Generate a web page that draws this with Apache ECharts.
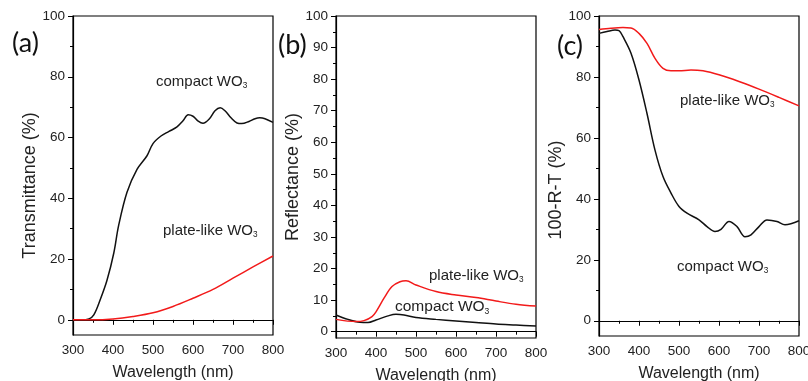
<!DOCTYPE html>
<html>
<head>
<meta charset="utf-8">
<script src="https://cdn.jsdelivr.net/npm/echarts@6/dist/echarts.min.js"></script>
<style>
  html, body { margin: 0; padding: 0; background: #fff; }
  #chart { width: 808px; height: 381px; }
</style>
</head>
<body>
<div id="chart"></div>
<script>
// (a) transmittance
let aCompactWl = [300, 320, 340, 352, 368, 385, 402, 414, 435, 460, 485, 500, 520, 540, 560, 575, 588, 600, 612, 625, 640, 655, 668, 680, 695, 710, 722, 740, 755, 767, 780, 800]
let aCompactT = [0, 0, 0.3, 1.6, 6.6, 13, 22, 31, 42, 49.5, 54, 58, 60.5, 62, 63.5, 65.5, 67.5, 67, 65.5, 64.7, 66, 68.8, 69.8, 68.8, 66.5, 64.8, 64.6, 65.3, 66.2, 66.5, 66.2, 65]
let aPlateWl = [300, 350, 400, 450, 500, 550, 600, 650, 700, 750, 800]
let aPlateT = [0, 0, 0.3, 1.1, 2.3, 4.4, 7.1, 10, 13.7, 17.4, 21]

// (b) reflectance
let bPlateWl = [300, 350, 370, 390, 400, 420, 440, 460, 475, 500, 550, 600, 650, 700, 750, 800]
let bPlateR = [3.9, 3.2, 3.5, 4.8, 6.3, 10.6, 14.3, 15.8, 16.1, 14.8, 12.7, 11.6, 10.8, 9.7, 8.7, 8.1]
let bCompactWl = [300, 330, 360, 380, 400, 430, 450, 470, 500, 550, 600, 650, 700, 750, 800]
let bCompactR = [5.3, 3.9, 3.0, 2.9, 3.7, 5.0, 5.5, 5.3, 4.5, 3.9, 3.4, 2.9, 2.4, 2.1, 1.8]

// (c) 100-R-T
let cPlateWl = [300, 330, 360, 380, 400, 420, 440, 460, 480, 500, 530, 560, 600, 650, 700, 750, 800]
let cPlateA = [95.6, 96.0, 96.2, 96.1, 94.3, 91, 86.1, 82.8, 82, 82, 82.3, 82, 80.7, 78.5, 76, 73.3, 70.5]
let cCompactWl = [300, 320, 340, 350, 360, 380, 400, 420, 440, 460, 480, 500, 520, 550, 570, 590, 605, 625, 645, 665, 680, 700, 720, 745, 765, 800]
let cCompactA = [94.3, 94.9, 95.4, 95.2, 93.2, 87.8, 79, 68, 56, 47.3, 41.9, 37.5, 35.3, 33.1, 30.9, 29.3, 30, 32.6, 30.9, 27.6, 28.2, 30.9, 33.1, 32.6, 31.5, 32.8]

let yTicksAC = [0, 20, 40, 60, 80, 100]
let yMinorAC = [10, 30, 50, 70, 90]
let yTicksB = [0, 10, 20, 30, 40, 50, 60, 70, 80, 90, 100]
let yMinorB = [5, 15, 25, 35, 45, 55, 65, 75, 85, 95]

let panelNames = ['Transmittance (%)', 'Reflectance (%)', '100-R-T (%)']
let panelLetters = ['(a)', '(b)', '(c)']

const RED = '#f21a1a'
const BLACK = '#111'
const TXT = '#222'

let zip = (xs, ys) => xs.map((x, i) => [x, ys[i]])

let grids = [
  { left: 73, top: 16, width: 200, height: 319 },
  { left: 336, top: 16, width: 200, height: 322 },
  { left: 599, top: 16, width: 200, height: 320 }
]
let yMins = [-5, -2, -5]
let namePads = [[0, 20, 0, 0], [0, 0, 0, 0], [0, 28, 0, 0]]

let xAxes = grids.map((g, i) => ({
  gridIndex: i,
  type: 'value',
  min: 300,
  max: 800,
  interval: 100,
  name: 'Wavelength (nm)',
  nameLocation: 'middle',
  nameGap: 30,
  nameTextStyle: { fontSize: 16, color: TXT, fontFamily: 'Liberation Sans' },
  axisLine: { lineStyle: { color: '#000', width: 1.2 } },
  axisTick: { length: 5, lineStyle: { color: '#000' } },
  minorTick: { show: true, splitNumber: 2, length: 3, lineStyle: { color: '#000' } },
  axisLabel: { fontSize: 13.5, color: TXT, margin: 8, fontFamily: 'Liberation Sans' },
  splitLine: { show: false }
}))

let yAxes = []
grids.forEach((g, i) => {
  let major = i === 1 ? yTicksB : yTicksAC
  let minor = i === 1 ? yMinorB : yMinorAC
  yAxes.push({
    gridIndex: i,
    type: 'value',
    position: 'left',
    min: yMins[i],
    max: 100,
    name: panelNames[i],
    nameLocation: 'middle',
    nameGap: i === 0 ? 31 : 34,
    nameTextStyle: { fontSize: 18, color: TXT, fontFamily: 'Liberation Sans', padding: namePads[i] },
    axisLine: { onZero: false, lineStyle: { color: '#000', width: 1.2 } },
    axisTick: { length: 5, customValues: major, lineStyle: { color: '#000' } },
    axisLabel: { fontSize: 13.5, color: TXT, margin: 8, customValues: major, fontFamily: 'Liberation Sans' },
    splitLine: { show: false }
  })
  // minor ticks on an overlaid axis
  yAxes.push({
    gridIndex: i,
    type: 'value',
    position: 'left',
    offset: 0,
    min: yMins[i],
    max: 100,
    axisLine: { show: false, onZero: false },
    axisTick: { length: 3, customValues: minor, lineStyle: { color: '#000' } },
    axisLabel: { show: false },
    splitLine: { show: false }
  })
})

let line = (name, gi, data, color) => ({
  name: name,
  type: 'line',
  xAxisIndex: gi,
  yAxisIndex: gi * 2,
  data: data,
  smooth: 0.35,
  showSymbol: false,
  lineStyle: { color: color, width: 1.5 },
  z: color === RED ? 3 : 2
})

let sub = (text, x, y, size) => ({
  type: 'text',
  left: x,
  top: y,
  style: {
    text: '{m|' + text + '}{s|3}',
    rich: {
      m: { fontSize: size, fill: TXT, fontFamily: 'Liberation Sans' },
      s: { fontSize: size * 0.55, fill: TXT, fontFamily: 'Liberation Sans', padding: [size * 0.55, 0, 0, 0] }
    }
  }
})

let letterPos = [[12, 30], [278, 32], [557, 33]]
let graphics = panelLetters.map((t, i) => ({
  type: 'text',
  left: letterPos[i][0],
  top: letterPos[i][1],
  style: { text: t, fontSize: 27, fill: '#111', fontFamily: 'Lato' }
}))
graphics.push(
  sub('compact WO', 156, 74, 15),
  sub('plate-like WO', 163, 223, 15),
  sub('plate-like WO', 429, 268, 15),
  sub('compact WO', 395, 299, 15.5),
  sub('plate-like WO', 680, 93, 15),
  sub('compact WO', 677, 259, 15)
)

let option = {
  animation: false,
  backgroundColor: '#fff',
  grid: grids.map(g => Object.assign({ show: true, borderColor: '#000', borderWidth: 1.2, backgroundColor: 'transparent', outerBoundsMode: 'none', containLabel: false }, g)),
  xAxis: xAxes,
  yAxis: yAxes,
  series: [
    line('compact WO3 T', 0, zip(aCompactWl, aCompactT), BLACK),
    line('plate-like WO3 T', 0, zip(aPlateWl, aPlateT), RED),
    line('plate-like WO3 R', 1, zip(bPlateWl, bPlateR), RED),
    line('compact WO3 R', 1, zip(bCompactWl, bCompactR), BLACK),
    line('plate-like WO3 A', 2, zip(cPlateWl, cPlateA), RED),
    line('compact WO3 A', 2, zip(cCompactWl, cCompactA), BLACK)
  ],
  graphic: graphics
}

let chart = echarts.init(document.getElementById('chart'))
chart.setOption(option)
</script>
</body>
</html>
